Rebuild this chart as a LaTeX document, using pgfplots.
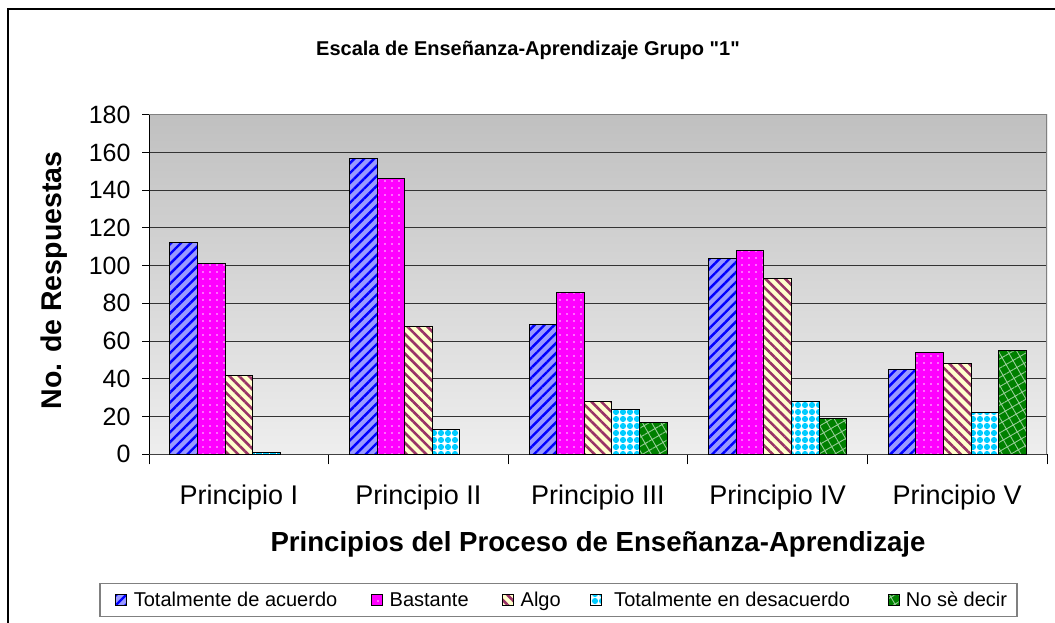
\documentclass[border=0pt]{standalone}
\usepackage{pgfplots}
\pgfplotsset{compat=1.18}
\usepackage{fontspec}
\setmainfont{Liberation Sans}[Ligatures=TeXOff]
\usetikzlibrary{patterns.meta}

\definecolor{cblue}{RGB}{153,153,255}
\definecolor{sblue}{RGB}{0,0,255}
\definecolor{cpink}{RGB}{255,0,255}
\definecolor{cyell}{RGB}{255,255,204}
\definecolor{smaroon}{RGB}{153,51,102}
\definecolor{ccyan}{RGB}{0,204,255}
\definecolor{cgreen}{RGB}{0,128,0}
\definecolor{sgreen}{RGB}{150,205,150}
\definecolor{bgtop}{RGB}{192,192,192}
\definecolor{bgbot}{RGB}{238,238,238}

\begin{document}
\begin{tikzpicture}
\useasboundingbox (0,0) rectangle (1055pt,622pt);
\draw[line width=1.5pt] (8pt,-10pt) -- (8pt,613pt) -- (1070pt,613pt);
\node[font=\bfseries\fontsize{20}{24}\selectfont] at (528pt,572pt) {Escala de Enseñanza-Aprendizaje Grupo "1"};
\begin{axis}[
  at={(149pt,167.7pt)}, anchor=south west,
  width=898pt, height=339.6pt, scale only axis,
  ybar=0pt, bar width=27.6pt,
  xmin=-0.5, xmax=4.5, ymin=0, ymax=180,
  ytick={0,20,...,180},
  xtick={0,...,4},
  xticklabels={Principio I, Principio II, Principio III, Principio IV, Principio V},
  minor xtick={-0.5,0.5,1.5,2.5,3.5,4.5},
  axis x line*=bottom, axis y line*=left,
  x axis line style={line width=1.5pt, black!75},
  y axis line style={line width=1pt, black},
  tick align=outside,
  major tick length=7pt, minor tick length=10pt,
  every major x tick/.append style={draw=none},
  every minor x tick/.append style={black, line width=1pt},
  every major y tick/.append style={black, line width=1pt},
  ymajorgrids,
  grid style={line width=1pt, black!80},
  axis background/.style={shade, top color=bgtop, bottom color=bgbot},
  /pgf/number format/assume math mode=true,
  yticklabel style={font=\fontsize{25}{29}\selectfont, xshift=-8pt},
  xticklabel style={font=\fontsize{27}{31}\selectfont, anchor=center, yshift=-36pt},
  xlabel={Principios del Proceso de Enseñanza-Aprendizaje},
  xlabel style={font=\bfseries\fontsize{27.6}{32}\selectfont, at={(rel axis cs:0.5,0)}, anchor=center, yshift=-90pt},
  ylabel={No. de Respuestas},
  ylabel style={font=\bfseries\fontsize{28.5}{33}\selectfont, at={(rel axis cs:0,0.5)}, anchor=center, xshift=4pt, yshift=95pt},
  legend columns=5,
  legend cell align=left,
  legend image code/.code={\draw[#1, line width=0.8pt] (0pt,-5.5pt) rectangle (11pt,5.5pt);
    \pgfpathmoveto{\pgfqpoint{-8pt}{0pt}}\pgfpathlineto{\pgfqpoint{16pt}{0pt}}\pgfusepath{}},
  legend style={at={(0.456,-0.429)}, anchor=center, draw=black!50, line width=1.5pt, fill=white,
    font=\fontsize{20}{24}\selectfont, inner xsep=8pt, inner ysep=6.5pt,
    nodes={inner xsep=2pt},
    /tikz/column 2/.style={column sep=24.4pt},
    /tikz/column 4/.style={column sep=24pt},
    /tikz/column 6/.style={column sep=20pt},
    /tikz/column 8/.style={column sep=28pt}},
]
\addplot[draw=black, line width=1pt, fill=cblue,
  postaction={pattern={Lines[angle=45,distance=7pt,line width=2.4pt]}, pattern color=sblue}]
  coordinates {(0,112) (1,157) (2,69) (3,104) (4,45)};
\addplot[draw=black, line width=1pt, fill=cpink,
  postaction={pattern={Dots[distance=7pt,radius=0.9pt]}, pattern color=white!85!cpink}]
  coordinates {(0,101) (1,146) (2,86) (3,108) (4,54)};
\addplot[draw=black, line width=1pt, fill=cyell,
  postaction={pattern={Lines[angle=-45,distance=7pt,line width=2.6pt]}, pattern color=smaroon}]
  coordinates {(0,42) (1,68) (2,28) (3,93) (4,48)};
\addplot[draw=black, line width=1pt, fill=white,
  postaction={pattern={Dots[distance=7pt,radius=3.1pt]}, pattern color=ccyan}]
  coordinates {(0,1) (1,13) (2,24) (3,28) (4,22)};
\addplot[draw=black, line width=1pt, fill=cgreen,
  postaction={pattern={Hatch[angle=30,distance=8pt,line width=0.9pt]}, pattern color=sgreen}]
  coordinates {(2,17) (3,19) (4,55)};
\legend{Totalmente de acuerdo, Bastante, Algo, \ Totalmente en desacuerdo, No sè decir}
\draw[black!50, line width=1.5pt] (rel axis cs:0,1) -- (rel axis cs:1,1) -- (rel axis cs:1,0);
\end{axis}
\end{tikzpicture}
\end{document}
